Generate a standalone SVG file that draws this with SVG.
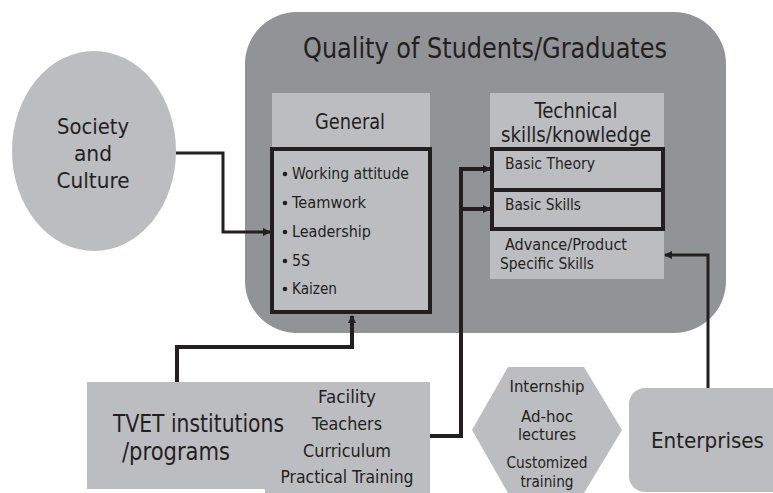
<svg xmlns="http://www.w3.org/2000/svg" width="773" height="493" viewBox="0 0 773 493">
<style>
text{font-family:"DejaVu Sans Condensed","DejaVu Sans",sans-serif;fill:#231f20}
.light{fill:#bcbdc1}
.mid{fill:#929397}
.box{fill:#bcbdc1;stroke:#231f20;stroke-width:4}
.ln{fill:none;stroke:#231f20;stroke-linejoin:miter}
.c{text-anchor:middle}
</style>
<defs>
<marker id="ah" markerWidth="8" markerHeight="8" refX="7" refY="4" orient="auto" markerUnits="userSpaceOnUse">
<path d="M0,0 L8,4 L0,8 Z" fill="#231f20"/>
</marker>
</defs>
<g id="quality">
<rect class="mid" x="245" y="12" width="481" height="321" rx="52" ry="52"/>
<text x="485" y="58" font-size="27.5" class="c" textLength="364" lengthAdjust="spacingAndGlyphs">Quality of Students/Graduates</text>
</g>
<g id="general">
<rect class="light" x="272" y="93" width="158" height="54"/>
<text x="350" y="129" font-size="22" class="c" textLength="70" lengthAdjust="spacingAndGlyphs">General</text>
<rect class="box" x="272" y="149" width="158" height="163"/>
<g font-size="16.5">
<circle cx="285" cy="174" r="2.3" fill="#231f20"/><text x="292" y="179" textLength="117" lengthAdjust="spacingAndGlyphs">Working attitude</text>
<circle cx="285" cy="203" r="2.3" fill="#231f20"/><text x="292" y="208" textLength="74" lengthAdjust="spacingAndGlyphs">Teamwork</text>
<circle cx="285" cy="232" r="2.3" fill="#231f20"/><text x="292" y="237" textLength="79" lengthAdjust="spacingAndGlyphs">Leadership</text>
<circle cx="285" cy="261" r="2.3" fill="#231f20"/><text x="292" y="266" textLength="18" lengthAdjust="spacingAndGlyphs">5S</text>
<circle cx="285" cy="289" r="2.3" fill="#231f20"/><text x="292" y="294" textLength="45" lengthAdjust="spacingAndGlyphs">Kaizen</text>
</g>
</g>
<g id="technical">
<rect class="light" x="490" y="93" width="174" height="186"/>
<text x="576" y="118" font-size="21" class="c" textLength="83" lengthAdjust="spacingAndGlyphs">Technical</text>
<text x="576" y="142" font-size="21" class="c" textLength="150" lengthAdjust="spacingAndGlyphs">skills/knowledge</text>
<rect class="box" x="492" y="149" width="171" height="41"/>
<text x="505" y="169" font-size="16" textLength="90" lengthAdjust="spacingAndGlyphs">Basic Theory</text>
<rect class="box" x="492" y="190" width="171" height="39"/>
<text x="505" y="210" font-size="16" textLength="76" lengthAdjust="spacingAndGlyphs">Basic Skills</text>
<text x="505" y="250" font-size="16" textLength="122" lengthAdjust="spacingAndGlyphs">Advance/Product</text>
<text x="500" y="269" font-size="16" textLength="94" lengthAdjust="spacingAndGlyphs">Specific Skills</text>
</g>
<g id="society">
<ellipse class="light" cx="94" cy="151" rx="82" ry="100"/>
<text x="93" y="134" font-size="22" class="c" textLength="72" lengthAdjust="spacingAndGlyphs">Society</text>
<text x="93" y="161" font-size="22" class="c" textLength="38" lengthAdjust="spacingAndGlyphs">and</text>
<text x="93" y="188" font-size="22" class="c" textLength="73" lengthAdjust="spacingAndGlyphs">Culture</text>
</g>
<g id="tvet">
<rect class="light" x="87" y="382" width="343" height="107"/>
<rect class="light" x="265" y="382" width="165" height="111"/>
<text x="113" y="432" font-size="24" textLength="171" lengthAdjust="spacingAndGlyphs">TVET institutions</text>
<text x="122" y="460" font-size="24" textLength="108" lengthAdjust="spacingAndGlyphs">/programs</text>
<text x="347" y="403" font-size="17" class="c" textLength="58" lengthAdjust="spacingAndGlyphs">Facility</text>
<text x="347" y="430" font-size="17" class="c" textLength="70" lengthAdjust="spacingAndGlyphs">Teachers</text>
<text x="347" y="457" font-size="17" class="c" textLength="88" lengthAdjust="spacingAndGlyphs">Curriculum</text>
<text x="347" y="483" font-size="17" class="c" textLength="133" lengthAdjust="spacingAndGlyphs">Practical Training</text>
</g>
<g id="training">
<polygon class="light" points="508,367 584,367 622,430 584,493 508,493 472,430"/>
<text x="547" y="392" font-size="16" class="c" textLength="75" lengthAdjust="spacingAndGlyphs">Internship</text>
<text x="547" y="422" font-size="16" class="c" textLength="52" lengthAdjust="spacingAndGlyphs">Ad-hoc</text>
<text x="547" y="440" font-size="16" class="c" textLength="58" lengthAdjust="spacingAndGlyphs">lectures</text>
<text x="547" y="468" font-size="16" class="c" textLength="81" lengthAdjust="spacingAndGlyphs">Customized</text>
<text x="547" y="487" font-size="16" class="c" textLength="53" lengthAdjust="spacingAndGlyphs">training</text>
</g>
<g id="enterprises">
<rect class="light" x="629" y="388" width="160" height="104" rx="16" ry="16"/>
<text x="651" y="448" font-size="22" textLength="113" lengthAdjust="spacingAndGlyphs">Enterprises</text>
</g>
<g id="connectors">
<path class="ln" stroke-width="3" d="M176,153 H223 V232 H270" marker-end="url(#ah)"/>
<path class="ln" stroke-width="4" d="M177,382 V347 H352 V316" marker-end="url(#ah)"/>
<path class="ln" stroke-width="4" d="M430,436 H461 V169 H490" marker-end="url(#ah)"/>
<path class="ln" stroke-width="4" d="M461,209 H490" marker-end="url(#ah)"/>
<path class="ln" stroke-width="3" d="M708,388 V255 H665" marker-end="url(#ah)"/>
</g>
</svg>
